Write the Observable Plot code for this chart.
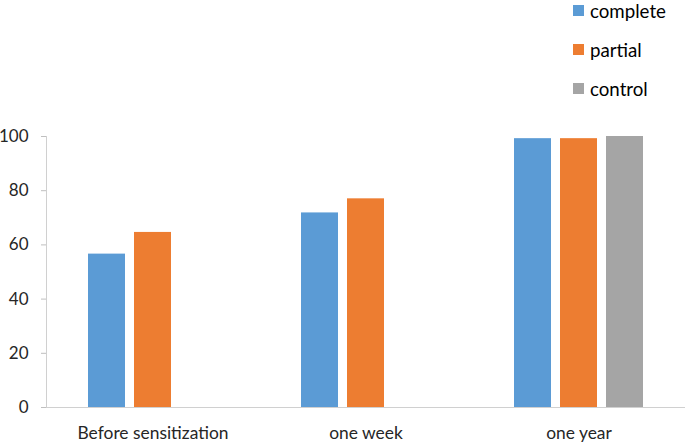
<!DOCTYPE html>
<html>
<head>
<meta charset="utf-8">
<script src="https://cdn.jsdelivr.net/npm/d3@7"></script>
<script src="https://cdn.jsdelivr.net/npm/@observablehq/plot@0.6"></script>
<style>
  html, body { margin: 0; padding: 0; background: #fff; }
  #wrap { position: relative; width: 685px; height: 442px; font-family: Lato, "Open Sans", sans-serif; }
  #legend { position: relative; width: 685px; height: 118px; }
  .item { position: absolute; left: 573px; display: flex; align-items: center; font-size: 18.7px; line-height: 20px; height: 20px; color: #000; }
  .sw { width: 11px; height: 11px; margin-right: 6px; }
  svg { display: block; }
</style>
</head>
<body>
<div id="wrap">
  <div id="legend"></div>
  <div id="chart"></div>
</div>
<script>
const categories = ["Before sensitization", "one week", "one year"];
const series = ["complete", "partial", "control"];
const colors = ["#5b9bd5", "#ed7d31", "#a5a5a5"];
const completeValues = [56.6, 71.8, 99.2];
const partialValues = [64.6, 77.0, 99.2];
const controlValues = [null, null, 100];
const yTicks = [0, 20, 40, 60, 80, 100];
const legendRowCenters = [10.5, 49.5, 88.5];

const valuesBySeries = [completeValues, partialValues, controlValues];
const data = [];
series.forEach((s, i) => {
  categories.forEach((c, j) => {
    const v = valuesBySeries[i][j];
    if (v != null) data.push({category: c, series: s, value: v});
  });
});

const legend = document.getElementById("legend");
series.forEach((s, i) => {
  const item = document.createElement("div");
  item.className = "item";
  item.style.top = (legendRowCenters[i] - 10) + "px";
  item.innerHTML = `<span class="sw" style="background:${colors[i]}"></span><span>${s}</span>`;
  legend.appendChild(item);
});

const chart = Plot.plot({
  width: 685,
  height: 324,
  marginTop: 18,
  marginBottom: 35,
  marginLeft: 46,
  marginRight: 0,
  style: {fontFamily: "Lato, 'Open Sans', sans-serif", fontSize: "17.4px", color: "#262626", background: "#fff"},
  fx: {domain: categories, padding: 0, label: null, tickSize: 0, tickPadding: 19, axis: "bottom"},
  x: {domain: series, paddingInner: 0.2, paddingOuter: 0.866, axis: null},
  y: {domain: [0, 100], ticks: yTicks, label: null, axis: null},
  color: {domain: series, range: colors},
  marks: [
    Plot.frame({anchor: "left", stroke: "#d0d0d0", facetAnchor: "left"}),
    Plot.axisY({ticks: yTicks, tickSize: 5, tickPadding: 13, stroke: "#bfbfbf", fill: "#262626", label: null, fontSize: 17}),
    Plot.ruleY([0], {stroke: "#d0d0d0", strokeWidth: 1.2}),
    Plot.barY(data, {fx: "category", x: "series", y: "value", fill: "series"})
  ]
});
document.getElementById("chart").appendChild(chart);
</script>
</body>
</html>
